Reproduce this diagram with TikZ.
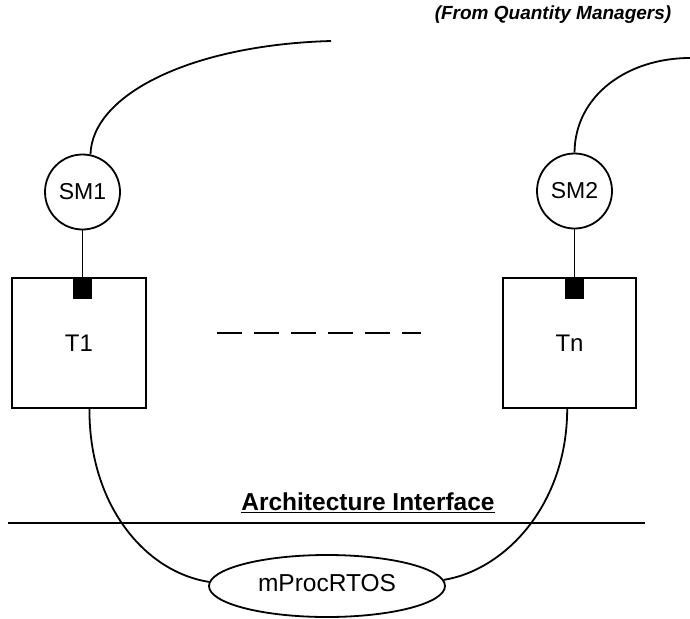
\documentclass[tikz,border=0pt]{standalone}
\usepackage{fontspec}
\setmainfont{Liberation Sans}
\usetikzlibrary{shapes.geometric}

\begin{document}
\begin{tikzpicture}[x=1pt,y=-1pt,line width=1.8pt,
        sm/.style={circle,draw,minimum size=75pt,inner sep=0pt,font=\fontsize{23}{26}\selectfont},
        task/.style={draw,minimum width=133pt,minimum height=130pt,inner sep=0pt,font=\fontsize{24}{28}\selectfont},
        port/.style={fill=black,minimum width=19pt,minimum height=20pt,inner sep=0pt}]
        \useasboundingbox (0,0) rectangle (690,618);

        \node (qmgr) at (553,15) {\fontsize{19}{22}\selectfont\bfseries\itshape (From Quantity Managers)};
        \coordinate (qm1) at (331,41);
        \coordinate (qm2) at (690,58);

        \node (sm1) at (82.5,192) [sm] {SM1};
        \node (sm2) at (574.5,191) [sm] {SM2};

        \node (t1) at (79,343) [task,minimum width=134pt] {T1};
        \node (tn) at (569.5,343) [task] {Tn};
        \node (t1port) at (82.5,289) [port] {};
        \node (tnport) at (574.5,289) [port] {};

        \node (mproc) at (327,586) [ellipse,draw,minimum width=236pt,minimum height=62pt,inner sep=0pt,
                font=\fontsize{24.5}{28}\selectfont] {\raisebox{6pt}{mProcRTOS}};
        \node (archif) at (368,503) [font=\fontsize{24.5}{28}\selectfont\bfseries] {\underline{Architecture Interface}};

        \draw (sm1.78) .. controls (92,95) and (190,45) .. (qm1);
        \draw (sm2.north) .. controls (575,95) and (628,58) .. (qm2);
        \draw (sm1.south) -- (t1port.north);
        \draw (sm2.south) -- (tnport.north);

        \draw[line width=2pt,dash pattern=on 25pt off 12pt] (217,333) -- (421,333);
        \draw[line width=2.6pt] (8,523) -- (645,523);

        \draw (t1.-81) .. controls (89,505) and (145,572) .. (mproc.178);
        \draw (tn.-92) .. controls (567,505) and (505,570) .. (mproc.3);
\end{tikzpicture}
\end{document}
